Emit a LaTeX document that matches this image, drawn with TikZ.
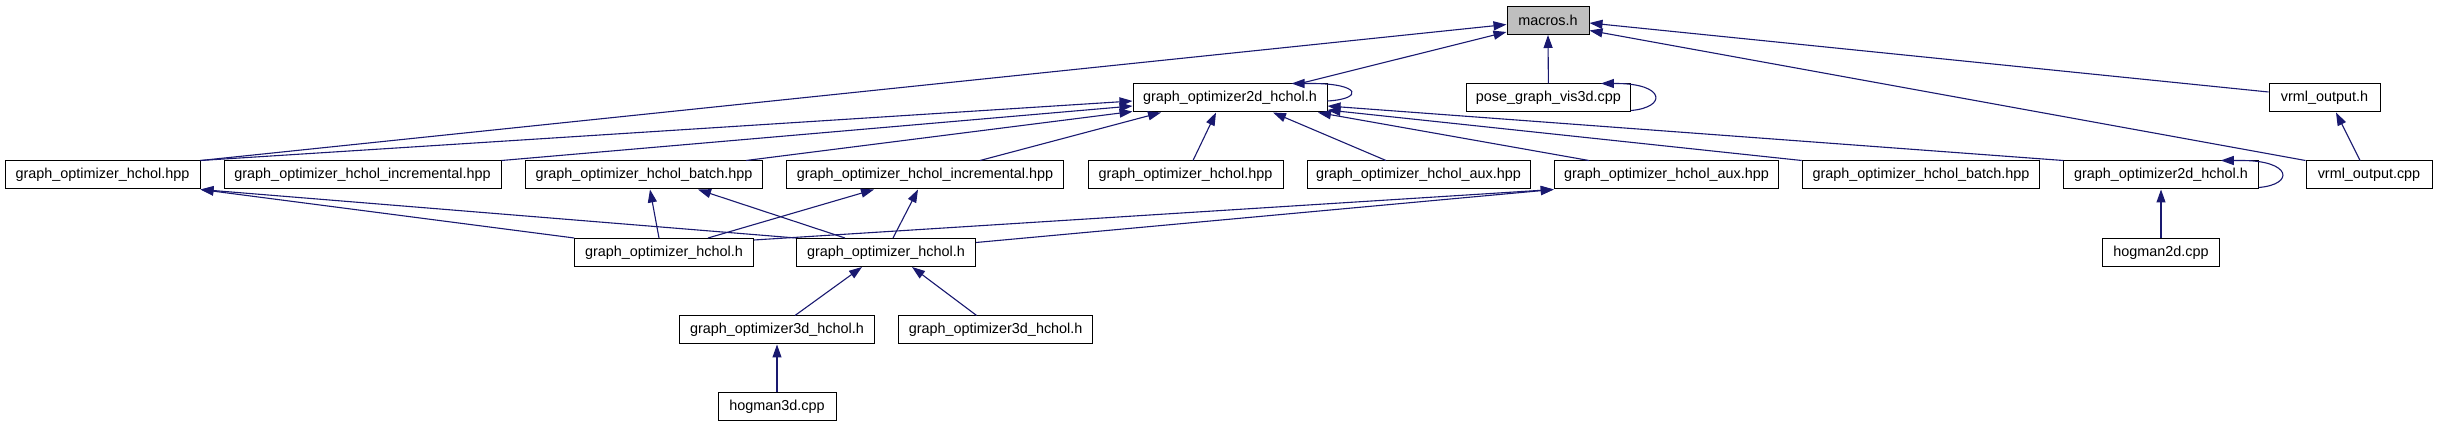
\documentclass[tikz,border=0pt]{standalone}
\usepackage{fontspec}
\setmainfont{Liberation Sans}
\usetikzlibrary{arrows.meta}
\definecolor{edgeblue}{HTML}{191970}
\definecolor{mgray}{HTML}{BFBFBF}
\tikzset{
  box/.style={draw=black, fill=white, line width=1pt, rectangle, minimum height=28pt, inner sep=0pt, font=\fontsize{14.4pt}{17pt}\selectfont},
  dep/.style={draw=edgeblue, line width=1.1pt, -{Triangle[length=13pt,width=9pt]}}
}
\begin{document}
\begin{tikzpicture}[x=1pt,y=-1pt]
\fill[white] (0,0) rectangle (2437,427);
\useasboundingbox (0,0) rectangle (2437,427);
% row 0
\node[box, fill=mgray, minimum width=82pt] (M) at (1548,20.5) {macros.h};
% row 1
\node[box, minimum width=194pt] (T2d) at (1230,98) {graph\_optimizer2d\_hchol.h};
\node[box, minimum width=164pt] (PG) at (1548.4,98) {pose\_graph\_vis3d.cpp};
\node[box, minimum width=111pt] (VH) at (2324.5,98) {vrml\_output.h};
% row 2
\node[box, minimum width=195pt] (HPP1) at (102.5,175) {graph\_optimizer\_hchol.hpp};
\node[box, minimum width=277pt] (INC1) at (362.5,175) {graph\_optimizer\_hchol\_incremental.hpp};
\node[box, minimum width=237.5pt] (BAT1) at (644,175) {graph\_optimizer\_hchol\_batch.hpp};
\node[box, minimum width=277.6pt] (INC2) at (925,175) {graph\_optimizer\_hchol\_incremental.hpp};
\node[box, minimum width=195pt] (HPP2) at (1185.5,175) {graph\_optimizer\_hchol.hpp};
\node[box, minimum width=223pt] (AUX1) at (1418.5,175) {graph\_optimizer\_hchol\_aux.hpp};
\node[box, minimum width=224.5pt] (AUX2) at (1666.5,175) {graph\_optimizer\_hchol\_aux.hpp};
\node[box, minimum width=237.6pt] (BAT2) at (1921,175) {graph\_optimizer\_hchol\_batch.hpp};
\node[box, minimum width=194.5pt] (D2) at (2161,175) {graph\_optimizer2d\_hchol.h};
\node[box, minimum width=126pt] (VC) at (2369,175) {vrml\_output.cpp};
% row 3
\node[box, minimum width=178.6pt] (HA) at (664,252.5) {graph\_optimizer\_hchol.h};
\node[box, minimum width=179pt] (HB) at (886,252.5) {graph\_optimizer\_hchol.h};
\node[box, minimum width=117.5pt] (H2d) at (2161,252.5) {hogman2d.cpp};
% row 4
\node[box, minimum width=195.4pt] (G3A) at (777,330) {graph\_optimizer3d\_hchol.h};
\node[box, minimum width=194.6pt] (G3B) at (995.6,330) {graph\_optimizer3d\_hchol.h};
% row 5
\node[box, minimum width=118pt] (H3) at (777,407) {hogman3d.cpp};

% edges to macros.h
\draw[dep] (HPP1.north east) -- ([yshift=-4pt]M.west);
\draw[dep] ([xshift=70pt]T2d.north) -- ([yshift=3pt]M.south west);
\draw[dep] (PG.north) -- (M.south);
\draw[dep] ([yshift=6pt]VH.west) -- ([yshift=-2.5pt]M.east);
\draw[dep] (VC.north west) -- ([yshift=-10pt]M.east);
\draw[dep] ([xshift=-9pt]VC.north) -- ([xshift=11.5pt]VH.south);
% edges to graph_optimizer2d_hchol.h (top)
\draw[dep] (HPP1.north east) -- ([yshift=-3pt]T2d.west);
\draw[dep] (INC1.north east) -- ([yshift=-8pt]T2d.west);
\draw[dep] ([xshift=102pt]BAT1.north) -- ([yshift=1pt]T2d.south west);
\draw[dep] ([xshift=55pt]INC2.north) -- ([xshift=-69pt]T2d.south);
\draw[dep] ([xshift=7.5pt]HPP2.north) -- ([xshift=-14pt]T2d.south);
\draw[dep] ([xshift=-32.5pt]AUX1.north) -- ([xshift=43pt]T2d.south);
\draw[dep] ([xshift=-77.5pt]AUX2.north) -- ([xshift=88pt]T2d.south);
\draw[dep] (BAT2.north west) -- ([yshift=-12pt]T2d.east);
\draw[dep] (D2.north west) -- ([yshift=-8pt]T2d.east);
% edges from graph_optimizer_hchol.h
\draw[dep] (HA.north west) -- (HPP1.south east);
\draw[dep] (HB.north west) -- (HPP1.south east);
\draw[dep] ([xshift=-5pt]HA.north) -- ([xshift=6pt]BAT1.south);
\draw[dep] ([xshift=44pt]HA.north) -- ([xshift=-51pt]INC2.south);
\draw[dep] ([xshift=-41pt]HB.north) -- ([xshift=54pt]BAT1.south);
\draw[dep] ([xshift=7pt]HB.north) -- ([xshift=-7pt]INC2.south);
\draw[dep] ([yshift=-2pt]HA.north east) -- (AUX2.south west);
\draw[dep] ([yshift=-4.5pt]HB.north east) -- (AUX2.south west);
\draw[dep] ([xshift=18pt]G3A.north) -- ([xshift=-24pt]HB.south);
\draw[dep] ([xshift=-19pt]G3B.north) -- ([xshift=26pt]HB.south);
\draw[dep] (H3.north) -- (G3A.south);
\draw[dep] (H2d.north) -- (D2.south);
% self loops
\draw[dep] ([yshift=-3pt]T2d.east) .. controls +(36,-2) and +(50,0) .. ([xshift=-16pt]T2d.north east) -- ([xshift=-36pt]T2d.north east);
\draw[dep] ([yshift=2pt]PG.south east) .. controls +(36,-3) and +(50,0) .. ([xshift=-15pt]PG.north east) -- ([xshift=-30pt]PG.north east);
\draw[dep] ([yshift=2pt]D2.south east) .. controls +(36,-3) and +(50,0) .. ([xshift=-17pt]D2.north east) -- ([xshift=-38pt]D2.north east);
\end{tikzpicture}
\end{document}
